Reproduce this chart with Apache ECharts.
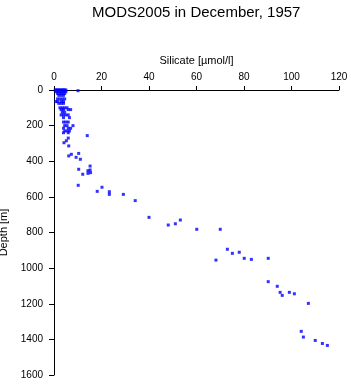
<!DOCTYPE html>
<html>
<head>
<meta charset="utf-8">
<script src="https://cdn.jsdelivr.net/npm/echarts@6/dist/echarts.min.js"></script>
<style>
  html, body { margin: 0; padding: 0; background: #fff; }
  #chart { width: 351px; height: 384px; }
</style>
</head>
<body>
<div id="chart"></div>
<script>
// silicate values (µmol/l) and their depths (m)
const silicate = [
  0.5, 1, 1.5, 2, 2.5, 3, 3.5, 4, 4.5, 5, 10.1,
  1, 2, 3, 4, 5,
  1.5, 2.5, 3.5, 4.5,
  2, 3, 4,
  1.5, 2.5, 3.5, 4.5,
  0.8, 1.5, 3, 4,
  2, 3, 4,
  2.5, 3.5, 4.5, 5.5,
  3, 4, 6, 7,
  3.5, 4.5,
  3, 4, 5, 6,
  4, 6.5,
  4, 5, 6,
  4.5, 5.5, 8,
  4, 6, 7,
  4.5, 5.5, 6.5,
  4, 6,
  14, 6, 5.2, 4.2, 6.2, 6.2, 7.3, 10.4, 9.3, 11.1,
  15.2, 10.4, 14.3, 15.4, 14.3, 12.1, 15.2,
  10.2, 18.2, 20.2, 23.3, 23.3, 29.2, 34.2, 40,
  48.1, 51.1, 53.2, 60.1, 70,
  73, 75.1, 78, 68.2, 80.1, 83.1, 90.2, 90.2,
  94, 95.2, 96.1, 99.1, 101.2, 107.1,
  104.1, 105, 110, 113, 115.1
];
const depth = [
  0, 0, 0, 0, 0, 0, 0, 0, 0, 0, 4,
  10, 10, 10, 10, 10,
  20, 20, 20, 20,
  30, 30, 30,
  50, 50, 50, 50,
  65, 65, 65, 65,
  75, 75, 75,
  100, 100, 100, 100,
  110, 110, 110, 110,
  125, 125,
  140, 140, 140, 140,
  155, 155,
  180, 180, 180,
  200, 200, 200,
  215, 215, 215,
  230, 230, 230,
  240, 240,
  256, 270, 285, 296, 314, 370, 361, 356, 378, 389,
  427, 445, 453, 464, 468, 473, 449,
  535, 569, 546, 571, 586, 586, 621, 715,
  758, 751, 730, 782, 782,
  894, 917, 911, 955, 945, 951, 945, 1076,
  1102, 1136, 1153, 1136, 1144, 1198,
  1355, 1387, 1406, 1423, 1434
];
const xTicks = [0, 20, 40, 60, 80, 100, 120];
const yTicks = [0, 200, 400, 600, 800, 1000, 1200, 1400, 1600];

const font = 'Liberation Sans, Arial, sans-serif';
const points = silicate.map((v, i) => [v, depth[i]]);

const chart = echarts.init(document.getElementById('chart'));
chart.setOption({
  animation: false,
  backgroundColor: '#fff',
  title: {
    text: 'MODS2005 in December, 1957',
    left: 87,
    top: 0,
    textStyle: { fontFamily: font, fontSize: 15, fontWeight: 'normal', color: '#000' }
  },
  grid: { left: 54, right: 12, top: 90, bottom: 9, containLabel: false, outerBoundsMode: 'none' },
  xAxis: {
    type: 'value',
    position: 'top',
    min: xTicks[0],
    max: xTicks[xTicks.length - 1],
    interval: 20,
    name: 'Silicate [µmol/l]',
    nameLocation: 'middle',
    nameGap: 24,
    nameTextStyle: { fontFamily: font, fontSize: 11, color: '#000' },
    axisLine: { lineStyle: { color: '#000', width: 1 } },
    axisTick: { length: 4, lineStyle: { color: '#000' } },
    axisLabel: { margin: 8, fontFamily: font, fontSize: 10, color: '#000' },
    splitLine: { show: false }
  },
  yAxis: {
    type: 'value',
    inverse: true,
    min: yTicks[0],
    max: yTicks[yTicks.length - 1],
    interval: 200,
    name: 'Depth [m]',
    nameLocation: 'middle',
    nameGap: 37,
    nameTextStyle: { fontFamily: font, fontSize: 11, color: '#000' },
    axisLine: { lineStyle: { color: '#000', width: 1 } },
    axisTick: { length: 5, lineStyle: { color: '#000' } },
    axisLabel: { margin: 11, fontFamily: font, fontSize: 10, color: '#000', formatter: v => String(v) },
    splitLine: { show: false }
  },
  series: [{
    type: 'scatter',
    symbol: 'rect',
    symbolSize: 3,
    itemStyle: { color: '#0000ff' },
    data: points
  }]
});
</script>
</body>
</html>
